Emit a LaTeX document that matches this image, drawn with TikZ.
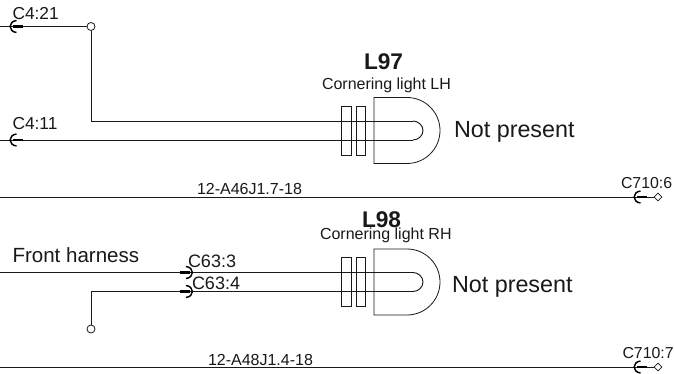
\documentclass[tikz,border=0pt]{standalone}
\usepackage{fontspec}
\setmainfont{Liberation Sans}
\usetikzlibrary{calc,shapes.geometric}
\tikzset{
  x=0.75pt,y=-0.75pt,
  wire/.style={line width=0.7pt,black!90},
  thin part/.style={line width=0.6pt,black!90},
  txt/.style={anchor=base west,inner sep=0pt,outer sep=0pt,text=black!90},
  big/.style={txt,font=\fontsize{17.5}{20}\selectfont},
  sub/.style={txt,font=\fontsize{12}{14}\selectfont},
  pin/.style={txt,font=\fontsize{13}{15}\selectfont},
  pinlong/.style={txt,font=\fontsize{11.9}{14}\selectfont},
  pintwo/.style={txt,font=\fontsize{13.5}{15}\selectfont},
  cable/.style={txt,font=\fontsize{12}{14}\selectfont},
  harness/.style={txt,font=\fontsize{15.4}{18}\selectfont},
  title/.style={txt,font=\fontsize{17}{20}\selectfont\bfseries},
  endcircle/.style={circle,draw=black!90,line width=0.6pt,minimum size=6pt,inner sep=0pt,fill=white},
  enddiamond/.style={diamond,draw=black!90,line width=0.5pt,minimum size=6pt,inner sep=0pt,fill=white},
  lamp/.pic={
    \draw[thin part] (-33,-24.5) rectangle (-23,24.5);
    \draw[thin part] (-18,-24.5) rectangle (-9,24.5);
    \draw[thin part] (33,-33) -- (0,-33) -- (0,33) -- (33,33)
      .. controls (51.2,33) and (66,18.2) .. (66,0)
      .. controls (66,-18.2) and (51.2,-33) .. (33,-33);
    \draw[wire] (39,-9.5) .. controls (44.2,-9.5) and (49,-5.2) .. (49,0)
      .. controls (49,5.2) and (44.2,9.5) .. (39,9.5);
  },
  socketL/.pic={
    \draw[line width=1.1pt,black] (6.5,-6) .. controls (-2,-5) and (-2,5) .. (6.5,6);
    \draw[line width=1.8pt,black] (3,0) -- (13,0);
  },
  socketR/.pic={
    \draw[line width=1.1pt,black] (-6.5,-6) .. controls (2,-5) and (2,5) .. (-6.5,6);
    \draw[line width=1.8pt,black] (-3,0) -- (-13,0);
  }
}
\begin{document}
\begin{tikzpicture}
\useasboundingbox[fill=white] (0,0) rectangle (674,374);
% free ends
\coordinate (w1) at (0,26.5);
\coordinate (w2) at (0,140);
\coordinate (w3) at (0,272.5);
\coordinate (b1) at (0,197);
\coordinate (b2) at (0,367);
\coordinate (l1a) at (413,121);
\coordinate (l1b) at (413,140);
\coordinate (l2a) at (413,272.5);
\coordinate (l2b) at (413,291.5);
% wires
\node[endcircle] (c1) at (91,26.5) {};
\node[endcircle] (c2) at (91,329) {};
\node[enddiamond] (d1) at (658,197) {};
\node[enddiamond] (d2) at (658,367) {};
\draw[wire] (w1) -- (c1.west);
\draw[wire] (c1.south) |- (l1a);
\draw[wire] (w2) -- (l1b);
\draw[wire] (w3) -- (l2a);
\draw[wire] (c2.north) |- (l2b);
\draw[wire] (b1) -- (d1.west);
\draw[wire] (b2) -- (d2.west);
% lamps
\pic at (374,130.5) {lamp};
\pic at (374,282) {lamp};
% sockets
\pic at (10,26.5) {socketL};
\pic at (10,140) {socketL};
\pic at (192.5,272.5) {socketR};
\pic at (192.5,291.5) {socketR};
\pic at (634,197) {socketL};
\pic at (634,367) {socketL};
% texts
\node[pin] (t1) at (12.5,20) {C4:21};
\node[pin] (t2) at (12.5,130) {C4:11};
\node[title] (t3) at (364,70) {L97};
\node[sub] (t4) at (322,90) {Cornering light LH};
\node[big] (t5) at (454,138) {Not present};
\node[cable] (t6) at (197,195) {12-A46J1.7-18};
\node[pinlong] (t7) at (621,189) {C710:6};
\node[title] (t8) at (362,227) {L98};
\node[sub] (t9) at (320,239.5) {Cornering light RH};
\node[harness] (t10) at (12.5,262) {Front harness};
\node[pintwo] (t11) at (188,267) {C63:3};
\node[pintwo] (t12) at (192,289) {C63:4};
\node[big] (t13) at (452,292) {Not present};
\node[cable] (t14) at (208,365) {12-A48J1.4-18};
\node[pinlong] (t15) at (622.5,358) {C710:7};
\end{tikzpicture}
\end{document}
